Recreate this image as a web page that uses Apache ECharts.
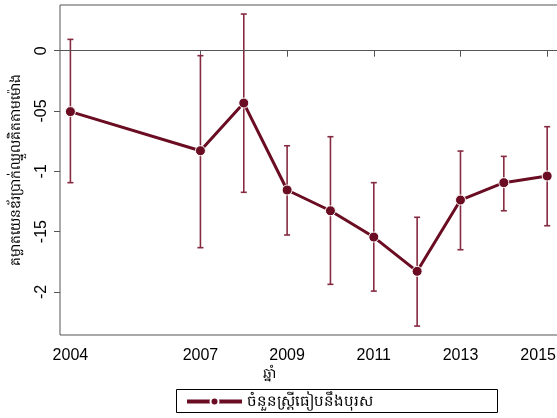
<!DOCTYPE html>
<html><head><meta charset="utf-8">
<script src="https://cdn.jsdelivr.net/npm/echarts@6/dist/echarts.min.js"></script>
<style>html,body{margin:0;padding:0;background:#fff}#c{width:557px;height:418px}</style>
</head><body><div id="c"></div>
<script>
const years = [2004, 2007, 2008, 2009, 2010, 2011, 2012, 2013, 2014, 2015];
const estimate = [-0.505, -0.829, -0.434, -1.155, -1.327, -1.545, -1.829, -1.238, -1.094, -1.039];
const upper = [0.094, -0.041, 0.304, -0.788, -0.713, -1.094, -1.381, -0.832, -0.876, -0.630];
const lower = [-1.094, -1.633, -1.174, -1.528, -1.937, -1.993, -2.283, -1.650, -1.327, -1.451];
const xTicks = [2004, 2007, 2009, 2011, 2013, 2015];
const yTicks = [0, -0.5, -1, -1.5, -2];
const yTickLabels = ['0', '-05', '-1', '-15', '-2'];
const seriesName = 'ចំនួនស្ត្រីធៀបនឹងបុរស';
const yTitle = 'គម្លាតយេនឌ័រប្រាក់ឈ្នួលគិតតាមម៉ោង';
const xTitle = 'ឆ្នាំ';

const font = '"Liberation Sans", Arial, "Noto Sans", sans-serif';
const lineColor = '#6b0d22';
const barColor = '#862a40';

const chart = echarts.init(document.getElementById('c'), null, {renderer: 'canvas'});
chart.setOption({
  animation: false,
  textStyle: {fontFamily: font},
  grid: {left: 60, top: 5, width: 498, height: 330, show: true, borderColor: '#555', borderWidth: 1,
    backgroundColor: '#fff', containLabel: false, outerBoundsMode: 'none'},
  xAxis: {
    type: 'value', min: 2003.76, max: 2015.25,
    axisLine: {show: false},
    splitLine: {show: false},
    axisTick: {show: true, customValues: xTicks, length: 6, lineStyle: {color: '#555'}},
    axisLabel: {customValues: xTicks, color: '#000', fontSize: 16, margin: 13,
      formatter: v => v === xTicks[xTicks.length - 1] ? '{e|' + v + '}' : String(v),
      rich: {e: {fontSize: 16, color: '#000', fontFamily: font, padding: [0, 18, 0, 0]}}}
  },
  yAxis: {
    type: 'value', min: -2.357, max: 0.379,
    name: yTitle, nameLocation: 'middle', nameGap: 37, nameRotate: 90,
    nameTextStyle: {color: '#000', fontSize: 14, fontFamily: font},
    axisLine: {show: false},
    splitLine: {show: false},
    axisTick: {show: true, customValues: yTicks, length: 6, lineStyle: {color: '#555'}},
    axisLabel: {customValues: yTicks, color: '#000', fontSize: 16, rotate: 90, margin: 10,
      formatter: v => { const i = yTicks.findIndex(t => Math.abs(t - v) < 1e-6); return i >= 0 ? yTickLabels[i] : ''; }}
  },
  legend: {
    left: 180, top: 389, itemWidth: 55, itemHeight: 10, itemGap: 10,
    lineStyle: {width: 4},
    textStyle: {color: '#000', fontSize: 15, fontFamily: font},
    data: [seriesName]
  },
  graphic: [
    {type: 'rect', left: 174, top: 387, shape: {width: 321, height: 23}, style: {fill: 'none', stroke: '#000', lineWidth: 1}, z: 0},
    {type: 'text', left: 263, top: 367, style: {text: xTitle, fontSize: 14, fill: '#000', fontFamily: font}}
  ],
  series: [
    {
      type: 'custom', name: 'ci', silent: true,
      data: years.map((y, i) => [y, lower[i], upper[i]]),
      renderItem: (params, api) => {
        const lo = api.coord([api.value(0), api.value(1)]);
        const hi = api.coord([api.value(0), api.value(2)]);
        const w = 3;
        const st = {stroke: barColor, lineWidth: 1.6};
        return {type: 'group', children: [
          {type: 'line', shape: {x1: lo[0], y1: lo[1], x2: hi[0], y2: hi[1]}, style: st},
          {type: 'line', shape: {x1: lo[0] - w, y1: lo[1], x2: lo[0] + w, y2: lo[1]}, style: st},
          {type: 'line', shape: {x1: hi[0] - w, y1: hi[1], x2: hi[0] + w, y2: hi[1]}, style: st}
        ]};
      },
      z: 2
    },
    {
      type: 'line', name: seriesName,
      data: years.map((y, i) => [y, estimate[i]]),
      symbol: 'circle', symbolSize: 10,
      lineStyle: {color: lineColor, width: 3},
      itemStyle: {color: lineColor, borderColor: '#fff', borderWidth: 1},
      markLine: {silent: true, symbol: 'none', label: {show: false},
        lineStyle: {color: '#555', width: 1, type: 'solid'}, data: [{yAxis: 0}]},
      z: 3
    }
  ]
});
</script></body></html>
